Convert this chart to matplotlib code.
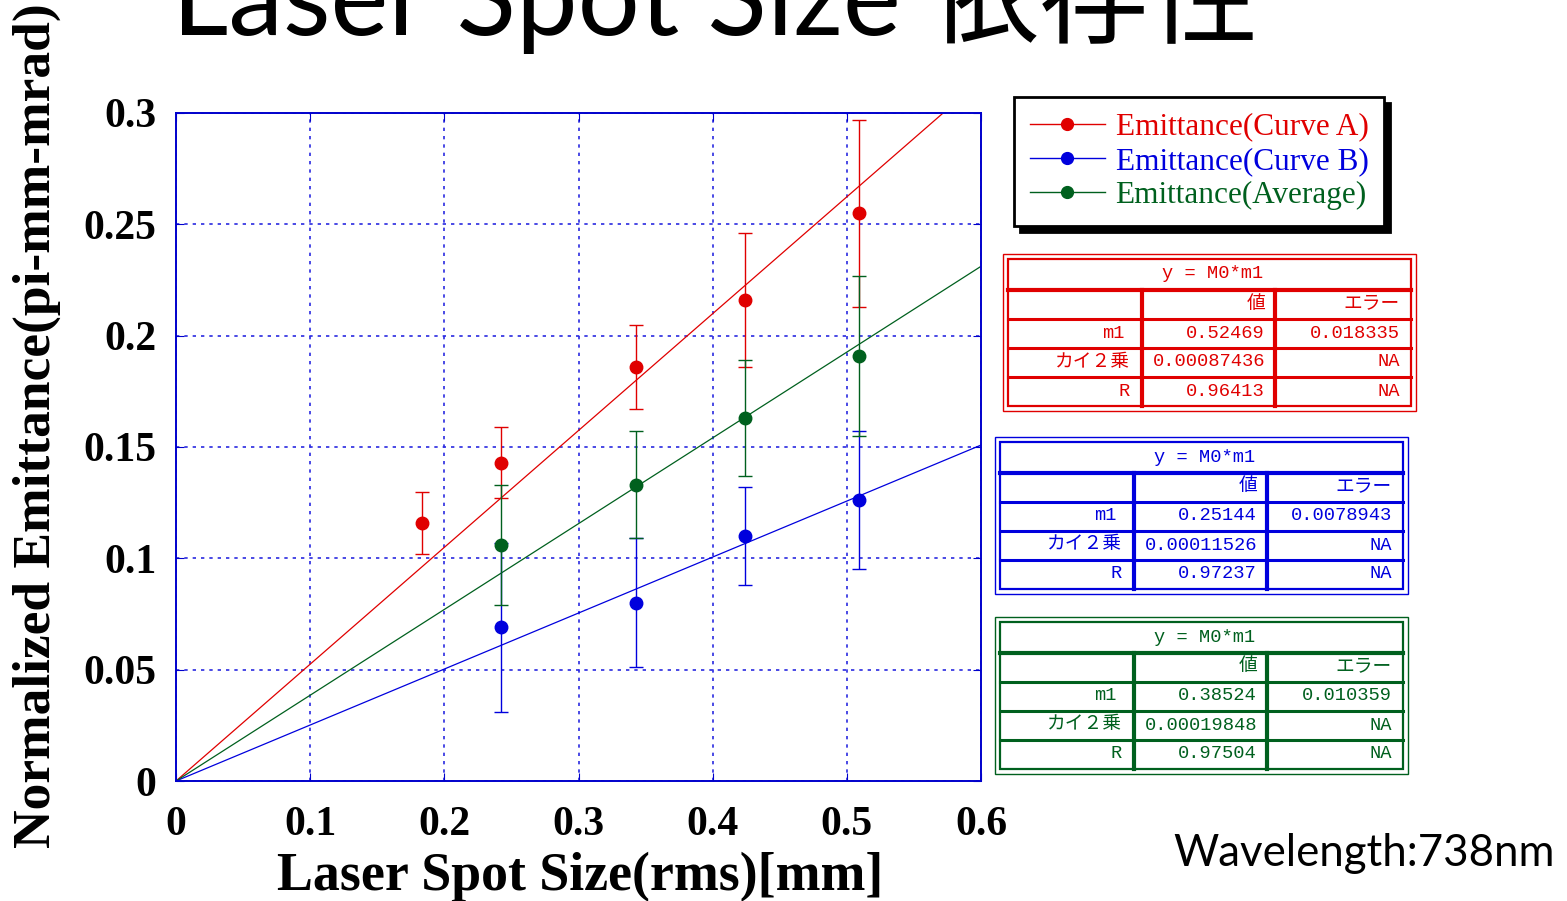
import matplotlib
matplotlib.use('Agg')
import numpy as np
import matplotlib.pyplot as plt
from matplotlib.lines import Line2D

# datos
spot_a = [0.183, 0.242, 0.343, 0.424, 0.509]
emit_a = [0.116, 0.143, 0.186, 0.216, 0.255]
err_a = [0.014, 0.016, 0.019, 0.030, 0.042]

spot_b = [0.242, 0.343, 0.424, 0.509]
emit_b = [0.069, 0.080, 0.110, 0.126]
err_b = [0.038, 0.029, 0.022, 0.031]

spot_avg = [0.242, 0.343, 0.424, 0.509]
emit_avg = [0.106, 0.133, 0.163, 0.191]
err_avg = [0.027, 0.024, 0.026, 0.036]

slope_a = 0.52469
slope_b = 0.25144
slope_avg = 0.38524

labels = ['Emittance(Curve A)', 'Emittance(Curve B)', 'Emittance(Average)']
colors = ['#e00000', '#0000dd', '#00601e']

table_a = ['0.52469', '0.018335', '0.00087436', '0.96413']
table_b = ['0.25144', '0.0078943', '0.00011526', '0.97237']
table_avg = ['0.38524', '0.010359', '0.00019848', '0.97504']

xticks = [0, 0.1, 0.2, 0.3, 0.4, 0.5, 0.6]
yticks = [0, 0.05, 0.1, 0.15, 0.2, 0.25, 0.3]

W, H = 1567, 901
fig = plt.figure(figsize=(W / 100, H / 100), dpi=100)
fig.patch.set_facecolor('white')

ax = fig.add_axes([176 / W, 1 - 781 / H, 805 / W, 668 / H])

xs = np.array([0, 0.6])
series = [(spot_a, emit_a, err_a, slope_a),
          (spot_b, emit_b, err_b, slope_b),
          (spot_avg, emit_avg, err_avg, slope_avg)]
for (sx, sy, se, m), c in zip(series, colors):
    ax.plot(xs, m * xs, color=c, lw=0.9, zorder=2)
    ax.errorbar(sx, sy, yerr=se, fmt='o', color=c, ms=9, elinewidth=1,
                capsize=5, capthick=1, zorder=3)

ax.set_xlim(0, 0.6)
ax.set_ylim(0, 0.3)
ax.set_xticks(xticks)
ax.set_yticks(yticks)
ax.set_xticklabels(['0', '0.1', '0.2', '0.3', '0.4', '0.5', '0.6'])
ax.set_yticklabels(['0', '0.05', '0.1', '0.15', '0.2', '0.25', '0.3'])
ax.grid(True, color='#2a2ae0', linestyle=(0, (2, 3)), lw=1.2)
for s in ax.spines.values():
    s.set_color('#0000cc')
    s.set_linewidth(1.4)
ax.tick_params(direction='in', length=6, color='#0000cc', top=True, right=True,
               labelsize=30)
ax.tick_params(axis='y', pad=14)
ax.tick_params(axis='x', pad=18)
for t in ax.get_xticklabels() + ax.get_yticklabels():
    t.set_fontfamily('Liberation Serif')
    t.set_fontweight('bold')

handles = [Line2D([], [], color=c, marker='o', lw=1, ms=8.5) for c in colors]
leg = ax.legend(handles, labels, loc='upper left',
                bbox_to_anchor=(1014 / W, 1 - 97 / H), bbox_transform=fig.transFigure,
                prop={'family': 'Liberation Serif', 'size': 22.5}, labelcolor='linecolor',
                handlelength=2.4, handletextpad=0.35, labelspacing=0.17,
                borderpad=0.5, borderaxespad=0, fancybox=False, framealpha=1,
                shadow={'color': 'black', 'alpha': 1, 'ox': 4, 'oy': -4})
leg.get_frame().set_edgecolor('black')
leg.get_frame().set_linewidth(2)

# textos
fig.text(172 / W, 1 - 35 / H, 'Laser Spot Size 依存性', fontsize=79,
         family=['Lato', 'Noto Sans CJK JP'], va='baseline', ha='left')
fig.text(580 / W, 1 - 890 / H, 'Laser Spot Size(rms)[mm]', fontsize=38.8,
         family='Liberation Serif', weight='bold', ha='center', va='baseline')
fig.text(37 / W, 1 - 426 / H, 'Normalized Emittance(pi-mm-mrad)', fontsize=38.5,
         family='Liberation Serif', weight='bold', rotation=90, ha='center', va='center')
fig.text(1173 / W, 1 - 866 / H, 'Wavelength:738nm', fontsize=31.5,
         family=['Lato', 'Noto Sans CJK JP'], va='baseline', ha='left')

# tablas de ajuste
ov = fig.add_axes([0, 0, 1, 1])
ov.set_xlim(0, W)
ov.set_ylim(H, 0)
ov.axis('off')

tfont = ['Liberation Mono', 'Noto Sans CJK JP']


def draw_table(ox, oy, c, vals):
    ov.add_patch(plt.Rectangle((ox, oy), 413, 157, fill=False, ec=c, lw=1))
    ov.add_patch(plt.Rectangle((ox + 5, oy + 5), 403, 147, fill=False, ec=c, lw=1.6))
    ov.plot([ox + 5, ox + 408], [oy + 36, oy + 36], color=c, lw=3)
    for ry in [oy + 65, oy + 94, oy + 123]:
        ov.plot([ox + 5, ox + 408], [ry, ry], color=c, lw=2.2)
    for cx in [ox + 139, ox + 272]:
        ov.plot([cx, cx], [oy + 36, oy + 152], color=c, lw=3)
    kw = dict(color=c, family=tfont, fontsize=13.5, va='center')
    ov.text(ox + 210, oy + 20, 'y = M0*m1', ha='center', **kw)
    ov.text(ox + 262, oy + 50, '値', ha='right', **kw)
    ov.text(ox + 397, oy + 50, 'エラー', ha='right', **kw)
    ov.text(ox + 122, oy + 79, 'm1', ha='right', **kw)
    ov.text(ox + 127, oy + 108, 'カイ２乗', ha='right', **kw)
    ov.text(ox + 127, oy + 137, 'R', ha='right', **kw)
    ov.text(ox + 262, oy + 79, vals[0], ha='right', **kw)
    ov.text(ox + 397, oy + 79, vals[1], ha='right', **kw)
    ov.text(ox + 262, oy + 108, vals[2], ha='right', **kw)
    ov.text(ox + 397, oy + 108, 'NA', ha='right', **kw)
    ov.text(ox + 262, oy + 137, vals[3], ha='right', **kw)
    ov.text(ox + 397, oy + 137, 'NA', ha='right', **kw)


draw_table(1003, 254, colors[0], table_a)
draw_table(995, 437, colors[1], table_b)
draw_table(995, 617, colors[2], table_avg)

fig.savefig('out.png', dpi=100, facecolor='white')
